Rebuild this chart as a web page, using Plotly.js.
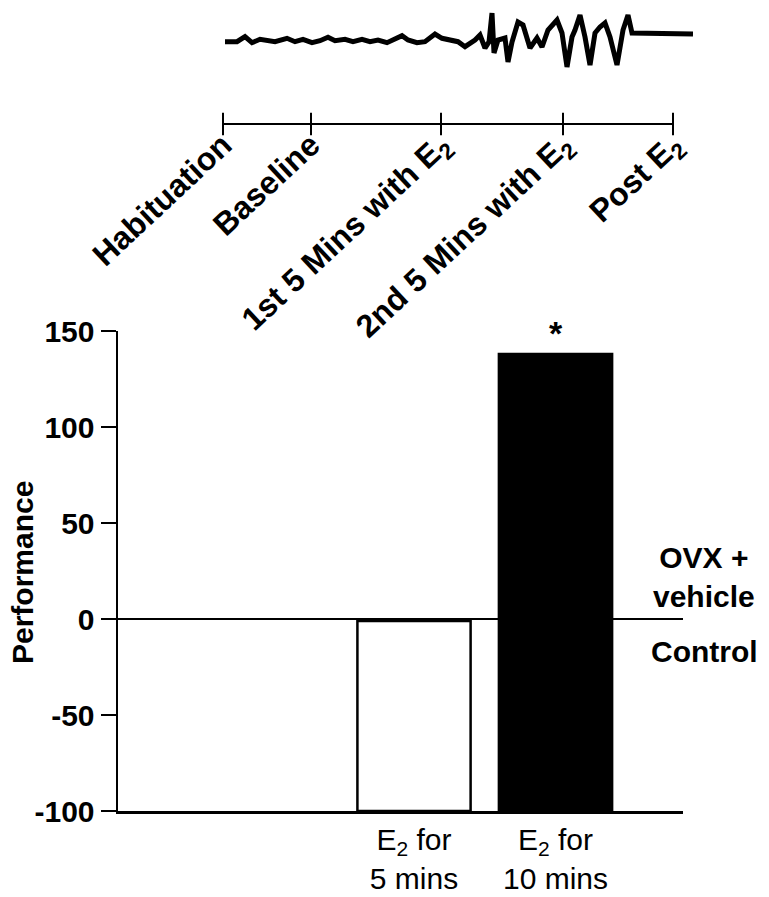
<!DOCTYPE html>
<html>
<head>
<meta charset="utf-8">
<script src="https://cdn.plot.ly/plotly-3.0.1.min.js"></script>
<style>
  html, body { margin: 0; padding: 0; background: #fff; }
  #chart { width: 769px; height: 897px; }
</style>
</head>
<body>
<div id="chart"></div>
<script>
// ---- Bar data ----
const barPositions = [2, 3];
const barLabels = ["E<sub>2</sub> for<br>5 mins", "E<sub>2</sub> for<br>10 mins"];
const barValues = [-1, 138];
const barBase = -100;
const barFill = ["#ffffff", "#000000"];

// ---- Y axis ticks ----
const yTicks = [-100, -50, 0, 50, 100, 150];
const yTickText = ["-100", "-50", "0", "50", "100", "150"];

// ---- Timeline (top) ----
const phasePositions = [0, 88, 218, 340, 450];
const phaseLabels = ["Habituation", "Baseline", "1st 5 Mins with E<sub>2</sub>", "2nd 5 Mins with E<sub>2</sub>", "Post E<sub>2</sub>"];

// ---- Recorded trace (top) ----
const traceTime = [2, 14, 22, 29, 37, 44, 52, 64, 72, 80, 89, 97, 105, 112, 122, 130, 139, 147, 155, 164, 170, 179, 185, 194, 202, 212, 219, 227, 235, 242, 247, 252, 257, 262, 266, 269, 271, 275, 282, 285, 289, 295, 300, 304, 307, 314, 319, 325, 334, 339, 344, 349, 352, 357, 362, 367, 372, 377, 382, 387, 394, 400, 405, 409, 420, 437, 460, 470];
const traceAmp = [-1.7, -1.7, 3.3, -2.7, 0.7, -0.7, -1.7, 1.7, -1.7, 0.7, -2.7, -0.7, 2.7, -0.7, 0.7, -1.7, 0.7, -1.7, 0, -2.7, 0, 4.3, 0, -2.7, -1.7, 6, 1.7, 0, -1.7, -6.7, -3.3, 0, 5, -8, -2, 27, -13, 0, 2, -22, -2, 18, 15, 3, -8, 2, -7, 10, 20, 7, -27, 3, 10, 25, 3, -25, 7, 13, 17, 3, -25, 10, 25, 7, 7, 7, 7, 6];

const FONT = "'Liberation Sans', Arial, Helvetica, sans-serif";
const W = 769, H = 897;
const px = v => v / W;
const py = v => 1 - v / H;

const bars = {
  type: "bar",
  x: barPositions,
  y: barValues.map(v => v - barBase),
  base: barBase,
  width: 0.8,
  marker: { color: barFill, line: { color: "#000", width: 2.5 } },
  xaxis: "x", yaxis: "y",
  hoverinfo: "skip",
  showlegend: false
};

const signal = {
  type: "scatter", mode: "lines",
  x: traceTime, y: traceAmp,
  line: { color: "#000", width: 5 },
  xaxis: "x2", yaxis: "y2",
  showlegend: false, hoverinfo: "skip"
};

const timeline = {
  type: "scatter", mode: "lines+markers",
  x: phasePositions, y: phasePositions.map(() => 0),
  line: { color: "#000", width: 2 },
  marker: { symbol: "line-ns", size: 16, color: "#000", line: { color: "#000", width: 2 } },
  xaxis: "x2", yaxis: "y3",
  showlegend: false, hoverinfo: "skip",
  cliponaxis: false
};

const layout = {
  width: W, height: H,
  margin: { l: 0, r: 0, t: 0, b: 0 },
  paper_bgcolor: "#fff", plot_bgcolor: "rgba(0,0,0,0)",
  font: { family: FONT, color: "#000" },
  showlegend: false,
  xaxis: {
    domain: [px(118), px(683)],
    range: [-0.092, 3.901],
    anchor: "y",
    showgrid: false, zeroline: false,
    showline: true, linecolor: "#000", linewidth: 2.5,
    ticks: "",
    tickvals: barPositions, ticktext: barLabels,
    tickfont: { family: FONT, size: 30, color: "#000" },
    fixedrange: true
  },
  yaxis: {
    domain: [py(811), py(331)],
    range: [-100, 150],
    anchor: "x",
    showgrid: false,
    zeroline: true, zerolinecolor: "#000", zerolinewidth: 2.5,
    showline: true, linecolor: "#000", linewidth: 2.5,
    ticks: "outside", ticklen: 15, tickwidth: 2.5, tickcolor: "#000",
    tickvals: yTicks, ticktext: yTickText,
    tickfont: { family: FONT, size: 30, color: "#000", weight: "bold" },
    fixedrange: true
  },
  xaxis2: {
    domain: [px(213), px(703)],
    range: [-10, 480],
    anchor: "free",
    position: py(119),
    showgrid: false, zeroline: false, showline: false,
    ticks: "",
    tickvals: phasePositions, ticktext: phaseLabels,
    tickangle: -43,
    tickfont: { family: FONT, size: 32, color: "#000", weight: "bold" },
    fixedrange: true
  },
  yaxis2: {
    domain: [py(75), py(5)],
    range: [-35, 35],
    anchor: "x2",
    visible: false, fixedrange: true
  },
  yaxis3: {
    domain: [py(136), py(112)],
    range: [-1, 1],
    anchor: "x2",
    visible: false, fixedrange: true
  },
  annotations: [
    { xref: "paper", yref: "paper", x: px(22), y: py(573), text: "<b>Performance</b>",
      textangle: -90, showarrow: false, xanchor: "center", yanchor: "middle",
      font: { family: FONT, size: 30, color: "#000" } },
    { xref: "x", yref: "y", x: barPositions[1], y: barValues[1], text: "<b>*</b>",
      showarrow: false, xanchor: "center", yanchor: "bottom", yshift: 0,
      font: { family: FONT, size: 34, color: "#000" } },
    { xref: "paper", yref: "y", x: px(704), y: 0, text: "<b>OVX +<br>vehicle</b>",
      showarrow: false, xanchor: "center", yanchor: "bottom", yshift: 4,
      font: { family: FONT, size: 30, color: "#000" } },
    { xref: "paper", yref: "y", x: px(704), y: 0, text: "<b>Control</b>",
      showarrow: false, xanchor: "center", yanchor: "top", yshift: -14,
      font: { family: FONT, size: 30, color: "#000" } }
  ]
};

Plotly.newPlot("chart", [bars, signal, timeline], layout, { staticPlot: true, displayModeBar: false });
</script>
</body>
</html>
